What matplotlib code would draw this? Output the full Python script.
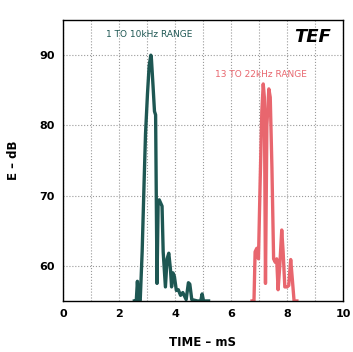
import matplotlib.pyplot as plt

# 1 to 10 kHz range (time in ms, level in dB)
low_time = [2.55, 2.62, 2.66, 2.70, 2.76, 2.83, 2.90, 2.95, 3.02, 3.08, 3.14, 3.16,
            3.22, 3.27, 3.31, 3.36, 3.40, 3.44, 3.54, 3.58, 3.66, 3.72, 3.78, 3.84,
            3.88, 3.93, 3.98, 4.05, 4.12, 4.20, 4.28, 4.40, 4.48, 4.53, 4.60, 4.80,
            4.92, 4.97, 5.02, 5.20]
low_db = [55.0, 55.0, 57.8, 55.2, 55.0, 62.0, 72.0, 78.8, 84.5, 88.5, 90.0, 89.5,
          85.5, 82.0, 81.5, 57.5, 69.0, 69.4, 68.5, 62.0, 57.0, 61.0, 61.8, 59.5,
          57.0, 59.0, 58.5, 56.5, 56.6, 55.8, 56.2, 55.2, 57.6, 57.4, 55.2, 55.0,
          55.0, 56.0, 55.0, 55.0]

# 13 to 22 kHz range
high_time = [6.75, 6.82, 6.86, 6.92, 6.98, 7.04, 7.10, 7.15, 7.19, 7.23, 7.28,
             7.35, 7.40, 7.46, 7.52, 7.58, 7.63, 7.68, 7.74, 7.81, 7.86, 7.92,
             8.00, 8.06, 8.13, 8.19, 8.25, 8.35]
high_db = [55.0, 55.0, 62.0, 62.5, 61.0, 72.0, 82.0, 85.9, 84.0, 57.5, 80.0,
           85.2, 84.0, 74.0, 61.0, 60.5, 61.0, 56.6, 60.0, 65.1, 62.0, 57.0,
           57.0, 57.2, 60.9, 58.0, 55.0, 55.0]

x_ticks = [0, 2, 4, 6, 8, 10]
y_ticks = [60, 70, 80, 90]


def main():
    fig = plt.figure(figsize=(3.53, 3.52), dpi=100)
    ax = fig.add_axes([0.178, 0.145, 0.794, 0.798])

    # the two traces
    ax.plot(low_time, low_db, color="#1e5753", linewidth=2.4, solid_joinstyle="round")
    ax.plot(high_time, high_db, color="#e8666e", linewidth=2.4, solid_joinstyle="round")

    ax.set_xlim(0, 10)
    ax.set_ylim(55, 95)
    ax.set_xticks(x_ticks)
    ax.set_yticks(y_ticks)
    ax.set_xticks(range(0, 11), minor=True)
    ax.grid(which="both", axis="x", color="#9a9a9a", linestyle=":", linewidth=0.8)
    ax.grid(which="major", axis="y", color="#9a9a9a", linestyle=":", linewidth=0.8)
    ax.tick_params(which="both", length=0, labelsize=8, pad=6)
    for lab in ax.get_xticklabels() + ax.get_yticklabels():
        lab.set_fontweight("bold")
    for side in ax.spines.values():
        side.set_linewidth(1.0)

    # labels and annotations
    ax.set_xlabel("TIME \u2013 mS", fontsize=8.5, fontweight="bold", labelpad=12)
    ax.set_ylabel("E \u2013 dB", fontsize=8.5, fontweight="bold", labelpad=14)
    ax.text(3.07, 92.9, "1 TO 10kHz RANGE", color="#1e5753", fontsize=6.5,
            ha="center", va="center")
    ax.text(7.07, 87.3, "13 TO 22kHz RANGE", color="#e8666e", fontsize=6.5,
            ha="center", va="center")
    ax.text(9.55, 92.6, "TEF", fontsize=13, fontweight="bold", fontstyle="italic",
            ha="right", va="center")

    plt.savefig("out.png", dpi=100)


if __name__ == "__main__":
    main()
